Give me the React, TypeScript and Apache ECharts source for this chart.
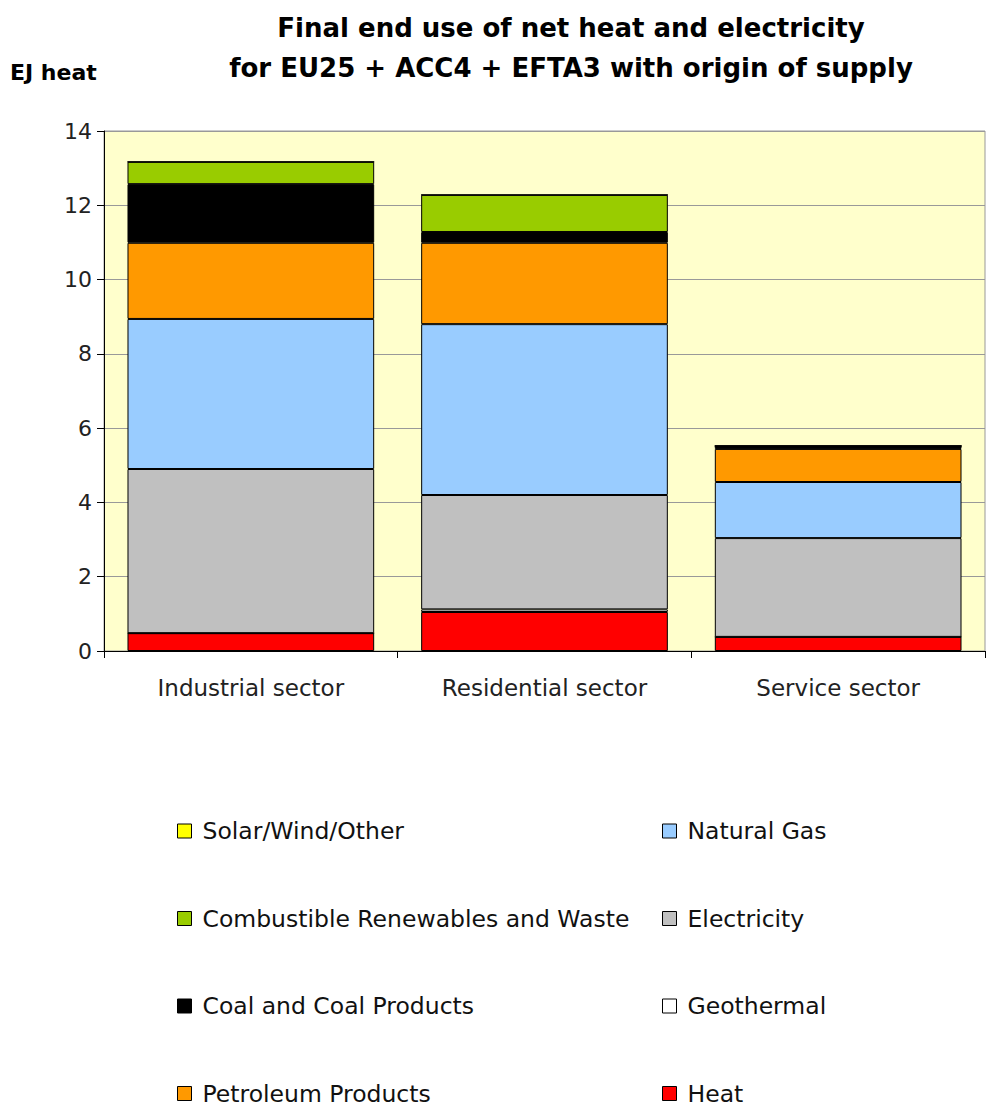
import React, { useEffect, useRef } from "react";
import * as echarts from "echarts";

const categories = ["Industrial sector", "Residential sector", "Service sector"];
const heat = [0.48, 1.05, 0.38];
const geothermal = [0, 0.07, 0];
const electricity = [4.42, 3.08, 2.66];
const naturalGas = [4.04, 4.6, 1.51];
const petroleum = [2.05, 2.19, 0.89];
const coal = [1.58, 0.29, 0.08];
const combustible = [0.6, 1.0, 0];
const solar = [0, 0, 0];
const yTicks = [0, 2, 4, 6, 8, 10, 12, 14];
const legendLeft = ["Solar/Wind/Other", "Combustible Renewables and Waste", "Coal and Coal Products", "Petroleum Products"];
const legendRight = ["Natural Gas", "Electricity", "Geothermal", "Heat"];

const FONT = "'DejaVu Sans', sans-serif";

export default function App() {
  const ref = useRef<HTMLDivElement>(null);
  useEffect(() => {
    const chart = echarts.init(ref.current!, undefined, { renderer: "svg" });
    const mk = (name: string, data: number[], color: string) => ({
      name,
      type: "bar",
      stack: "total",
      data,
      barCategoryGap: "16%",
      itemStyle: { color, borderColor: "#000", borderWidth: 1 },
      emphasis: { disabled: true },
    });
    const legendCommon = {
      orient: "vertical",
      icon: "rect",
      itemWidth: 14,
      itemHeight: 14,
      itemGap: 61.5,
      padding: 0,
      selectedMode: false,
      textStyle: { fontFamily: FONT, fontSize: 23.5, color: "#111", lineHeight: 26, padding: [0, 0, 0, 6] },
      itemStyle: { borderColor: "#000", borderWidth: 1 },
    };
    chart.setOption({
      animation: false,
      backgroundColor: "#fff",
      graphic: [
        {
          type: "text",
          x: 571,
          y: 28,
          style: {
            text: "Final end use of net heat and electricity",
            textAlign: "center",
            textVerticalAlign: "middle",
            font: `bold 26px ${FONT}`,
            fill: "#000",
          },
        },
        {
          type: "text",
          x: 571,
          y: 68,
          style: {
            text: "for EU25 + ACC4 + EFTA3 with origin of supply",
            textAlign: "center",
            textVerticalAlign: "middle",
            font: `bold 26px ${FONT}`,
            fill: "#000",
          },
        },
        {
          type: "text",
          x: 10,
          y: 72,
          style: {
            text: "EJ heat",
            textAlign: "left",
            textVerticalAlign: "middle",
            font: `bold 22px ${FONT}`,
            fill: "#000",
          },
        },
      ],
      grid: {
        left: 104,
        right: 12,
        top: 131,
        bottom: 458,
        show: true,
        backgroundColor: "#FFFFCC",
        borderColor: "#999",
        borderWidth: 1,
      },
      xAxis: {
        type: "category",
        data: categories,
        axisLine: { lineStyle: { color: "#000", width: 1 } },
        axisTick: { show: true, length: 7, lineStyle: { color: "#000" } },
        axisLabel: { fontFamily: FONT, fontSize: 23, color: "#222", margin: 25 },
      },
      yAxis: {
        type: "value",
        min: yTicks[0],
        max: yTicks[yTicks.length - 1],
        interval: 2,
        axisLine: { show: true, lineStyle: { color: "#000", width: 1 } },
        axisTick: { show: true, length: 7, lineStyle: { color: "#000" } },
        axisLabel: { fontFamily: FONT, fontSize: 22, color: "#222", margin: 12 },
        splitLine: { show: true, lineStyle: { color: "#999", width: 1 } },
      },
      legend: [
        { ...legendCommon, left: 177, top: 818, data: legendLeft },
        { ...legendCommon, left: 662, top: 818, data: legendRight },
      ],
      series: [
        mk("Heat", heat, "#FF0000"),
        mk("Geothermal", geothermal, "#FFFFFF"),
        mk("Electricity", electricity, "#C0C0C0"),
        mk("Natural Gas", naturalGas, "#99CCFF"),
        mk("Petroleum Products", petroleum, "#FF9900"),
        mk("Coal and Coal Products", coal, "#000000"),
        mk("Combustible Renewables and Waste", combustible, "#99CC00"),
        mk("Solar/Wind/Other", solar, "#FFFF00"),
      ],
    });
    return () => chart.dispose();
  }, []);
  return (
    <div
      ref={ref}
      style={{ position: "absolute", left: 0, top: 0, width: 997, height: 1109 }}
    />
  );
}
